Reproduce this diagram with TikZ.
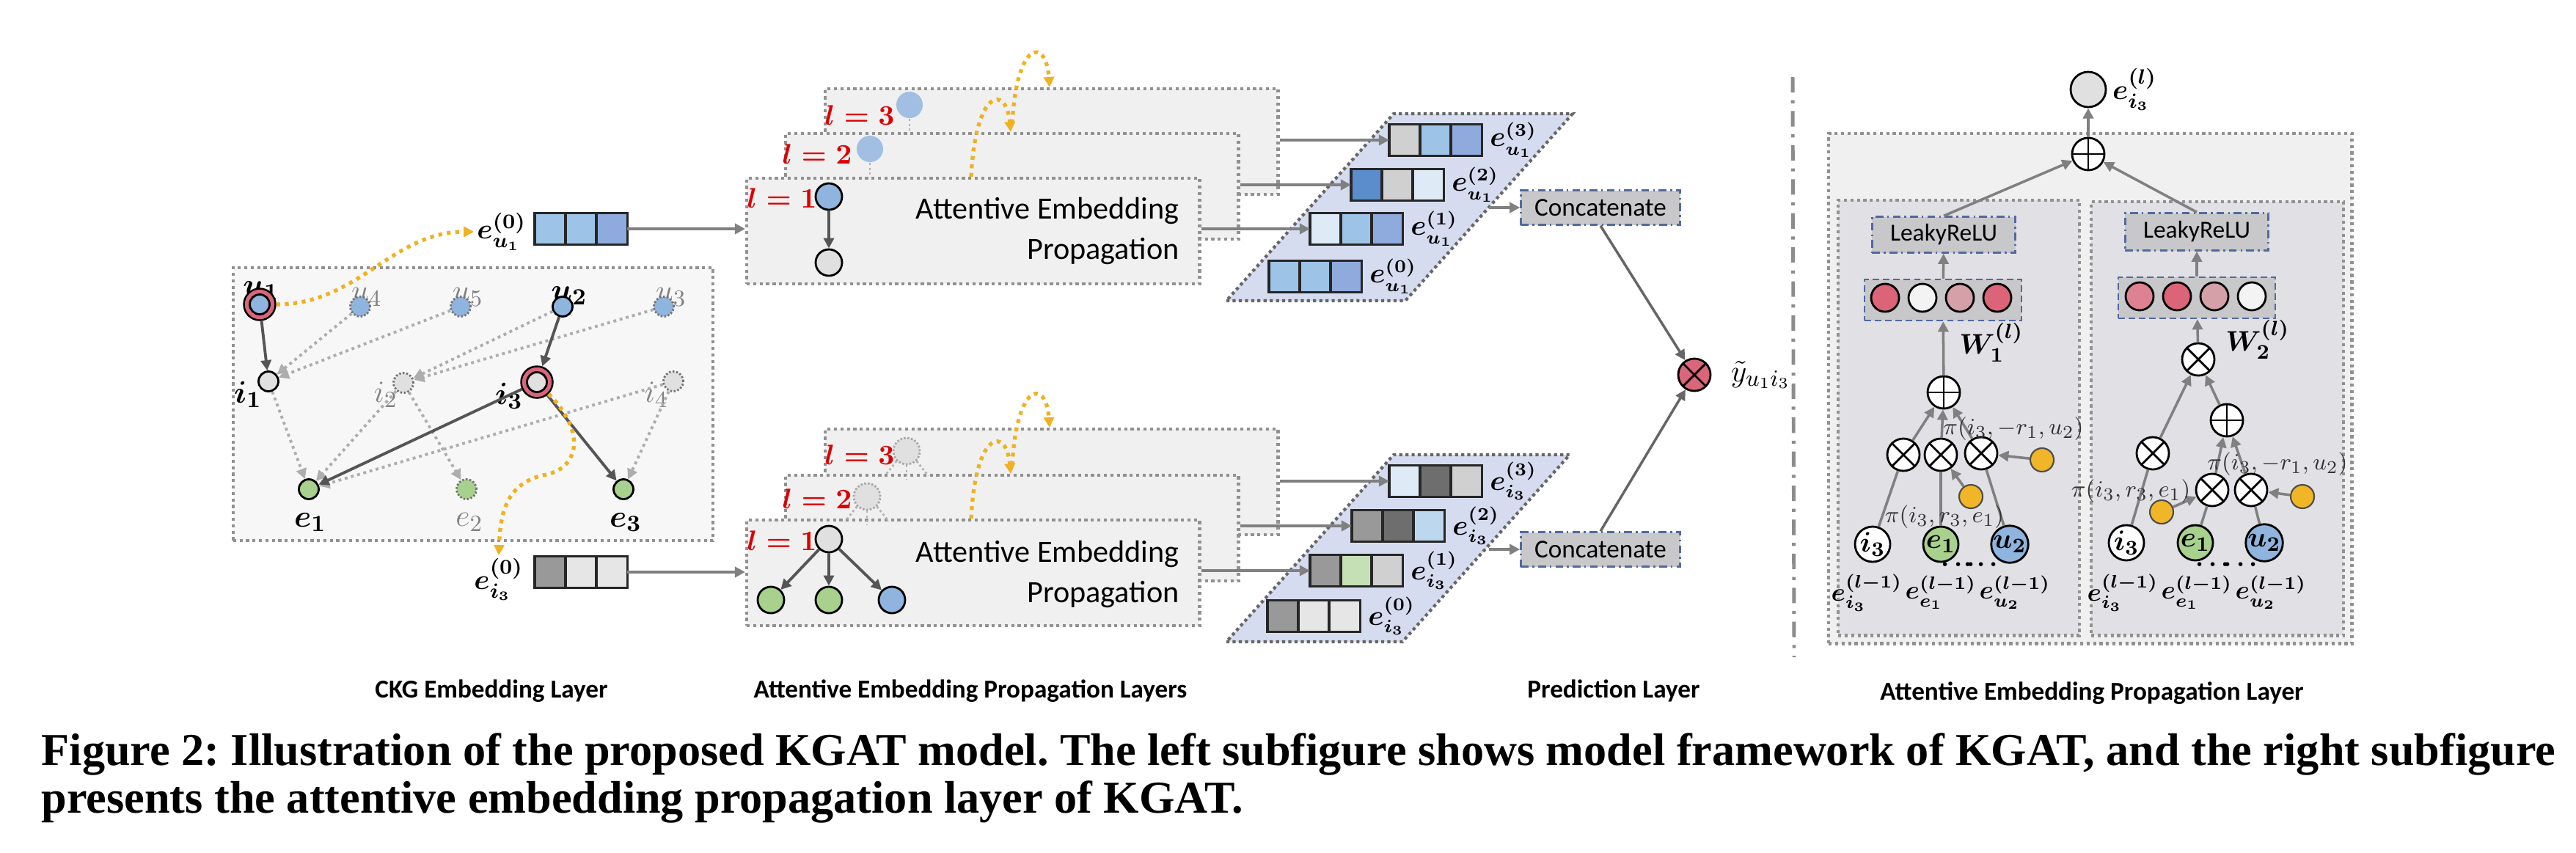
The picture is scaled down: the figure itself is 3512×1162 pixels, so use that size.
\documentclass[tikz,border=0pt]{standalone}
\usepackage{fontspec}
\setsansfont{Carlito}
\newfontfamily\capfont{Liberation Serif}
\usepackage{amsmath}
\usetikzlibrary{arrows.meta,positioning,calc}

\definecolor{nodeblue}{RGB}{143,180,222}
\definecolor{nodegreen}{RGB}{169,209,142}
\definecolor{nodegray}{RGB}{224,224,224}
\definecolor{ringred}{RGB}{217,102,123}
\definecolor{arrowyellow}{RGB}{238,178,34}
\definecolor{attyellow}{RGB}{240,182,40}
\definecolor{dotgray}{RGB}{145,145,145}
\definecolor{edgegray}{RGB}{85,85,85}
\definecolor{boxgray}{RGB}{240,240,240}
\definecolor{ckgfill}{RGB}{247,247,247}
\definecolor{stackfill}{RGB}{214,220,240}
\definecolor{opfill}{RGB}{200,200,202}
\definecolor{opborder}{RGB}{80,105,160}
\definecolor{innerfill}{RGB}{225,224,228}
\definecolor{lred}{RGB}{222,0,0}
\definecolor{attred}{RGB}{220,100,120}
\definecolor{attpink}{RGB}{222,130,146}
\definecolor{attmauve}{RGB}{213,160,168}
\definecolor{attwhite}{RGB}{243,243,243}
\definecolor{vblue}{RGB}{157,195,230}
\definecolor{vpurple}{RGB}{143,170,220}
\definecolor{vdeep}{RGB}{91,140,204}
\definecolor{vpale}{RGB}{222,235,247}
\definecolor{vgrayA}{RGB}{153,153,153}
\definecolor{vgrayB}{RGB}{110,110,110}
\definecolor{vgrayC}{RGB}{208,208,208}
\definecolor{vgrayD}{RGB}{231,230,230}
\definecolor{vgreen}{RGB}{197,224,180}
\definecolor{vsky}{RGB}{189,215,238}

\tikzset{
  dotbox/.style={draw=dotgray, line width=1.2pt, dash pattern=on 1.2pt off 1.3pt},
  ckgbox/.style={rectangle, dotbox, fill=ckgfill, inner sep=0pt, minimum width=6.54cm, minimum height=3.72cm},
  layerbox/.style={rectangle, dotbox, fill=boxgray, inner sep=0pt, minimum width=6.17cm, minimum height=1.44cm, anchor=north west},
  ent/.style={circle, draw=black, line width=0.8pt, minimum size=0.27cm, inner sep=0pt},
  ghostent/.style={ent, draw=black!55, dash pattern=on 0.7pt off 0.7pt},
  ring/.style={circle, draw=black, line width=0.7pt, fill=ringred, minimum size=0.43cm, inner sep=0pt},
  darkedge/.style={draw=edgegray, line width=1.1pt, ->},
  faintedge/.style={draw=black!32, line width=1.1pt, dash pattern=on 1.1pt off 1.4pt, ->},
  yflow/.style={draw=arrowyellow, line width=1.5pt, dash pattern=on 1.5pt off 1.8pt, ->},
  cell/.style={rectangle, draw=black!85, line width=0.9pt, minimum width=0.42cm, minimum height=0.43cm, inner sep=0pt, outer sep=0pt},
  flow/.style={draw=black!50, line width=1.4pt, ->},
  flowthin/.style={draw=black!60, line width=1pt, ->},
  stackbox/.style={fill=stackfill, draw=black!60, line width=1.2pt, dash pattern=on 1.2pt off 1.2pt},
  opbox/.style={rectangle, fill=opfill, draw=opborder, line width=0.7pt, dash pattern=on 3pt off 1.5pt on 0.7pt off 1.5pt, inner sep=0pt, font=\sffamily\fontsize{10}{12}\selectfont},
  rowbox/.style={rectangle, fill=opfill, draw=opborder, line width=0.7pt, dash pattern=on 2.5pt off 1.5pt, inner sep=0pt, minimum width=2.14cm, minimum height=0.56cm},
  pnode/.style={circle, draw=black, line width=0.8pt, minimum size=0.36cm, inner sep=0pt},
  stub/.style={draw=black!30, line width=0.8pt, dash pattern=on 0.8pt off 1pt},
  llab/.style={text=lred, font=\fontsize{11}{13}\selectfont\boldmath},
  mlab/.style={inner sep=1pt, font=\fontsize{11}{13}\selectfont\boldmath},
  klab/.style={inner sep=0pt, font=\fontsize{10.5}{12}\selectfont\boldmath},
  slab/.style={inner sep=1pt, font=\fontsize{13}{15}\selectfont\boldmath},
  glab/.style={inner sep=1pt, text=black!50, font=\fontsize{13}{15}\selectfont},
  plab/.style={inner sep=0pt, font=\fontsize{10}{11}\selectfont\boldmath},
  pilab/.style={inner sep=0.5pt, text=black!80, font=\fontsize{9.5}{11}\selectfont},
  proptext/.style={align=right, font=\sffamily\fontsize{12}{15.4}\selectfont},
  capsf/.style={font=\sffamily\bfseries\fontsize{10}{12}\selectfont},
  opnode/.style={circle, draw=black, line width=0.8pt, fill=white, minimum size=0.44cm, inner sep=0pt},
  timesop/.style={opnode, path picture={\draw[line width=0.8pt] (path picture bounding box.north west) -- (path picture bounding box.south east) (path picture bounding box.north east) -- (path picture bounding box.south west);}},
  plusop/.style={opnode, path picture={\draw[line width=0.8pt] (path picture bounding box.north) -- (path picture bounding box.south) (path picture bounding box.east) -- (path picture bounding box.west);}},
  attn/.style={circle, draw=black, line width=0.8pt, minimum size=0.38cm, inner sep=0pt},
  wnode/.style={circle, draw=black!70, line width=0.6pt, fill=attyellow, minimum size=0.32cm, inner sep=0pt},
  leaf/.style={circle, draw=black, line width=0.8pt, minimum size=0.48cm, inner sep=0pt, font=\fontsize{11}{12}\selectfont\boldmath},
  pedge/.style={draw=black!50, line width=1pt, ->},
  pline/.style={draw=black!50, line width=1pt},
  sepline/.style={draw=black!45, line width=1.4pt, dash pattern=on 6pt off 3pt on 1.2pt off 3pt},
}

% three-cell embedding vector: name, x, y (left middle), colours
\newcommand{\vecbox}[6]{%
  \node[cell, fill=#4, anchor=west] (#1a) at (#2,#3) {};
  \node[cell, fill=#5, right=0pt of #1a] (#1b) {};
  \node[cell, fill=#6, right=0pt of #1b] (#1c) {};
}

\begin{document}
\frenchspacing
\begin{tikzpicture}[x=0.01cm, y=-0.01cm, >={Triangle[length=4pt,width=4pt]}]
  \useasboundingbox (0,0) rectangle (3512,1162);

  % CKG embedding layer
  \node[ckgbox] (ckg) at (645,551) {};
  \node[slab] at (356,396) {$u_1$};
  \node[glab] at (500,405) {$u_4$};
  \node[glab] at (638,405) {$u_5$};
  \node[slab] at (776,403) {$u_2$};
  \node[glab] at (915,405) {$u_3$};
  \node[slab] at (338,538) {$i_1$};
  \node[glab] at (526,538) {$i_2$};
  \node[slab] at (694,540) {$i_3$};
  \node[glab] at (895,538) {$i_4$};
  \node[slab] at (423,712) {$e_1$};
  \node[glab] at (640,712) {$e_2$};
  \node[slab] at (853,712) {$e_3$};

  \node[ring] (u1r) at (354,415) {};
  \node[ent, fill=nodeblue] (u1) at (354,415) {};
  \node[ghostent, fill=nodeblue] (u4) at (491,418) {};
  \node[ghostent, fill=nodeblue] (u5) at (628,418) {};
  \node[ent, fill=nodeblue] (u2) at (767,418) {};
  \node[ghostent, fill=nodeblue] (u3) at (905,418) {};
  \node[ent, fill=nodegray] (i1) at (366,520) {};
  \node[ghostent, fill=nodegray] (i2) at (550,522) {};
  \node[ring] (i3r) at (732,521) {};
  \node[ent, fill=nodegray] (i3) at (732,521) {};
  \node[ghostent, fill=nodegray] (i4) at (918,520) {};
  \node[ent, fill=nodegreen] (e1) at (421,667) {};
  \node[ghostent, fill=nodegreen] (e2) at (636,667) {};
  \node[ent, fill=nodegreen] (e3) at (850,667) {};

  \foreach \a/\b in {u4/i1, u5/i1, u2/i2, u3/i2, i1/e1, i2/e1, i2/e2, i4/e1, i4/e3}
    \draw[faintedge] (\a) -- (\b);
  \draw[darkedge] (u1r) -- (i1);
  \draw[darkedge] (u2) -- (i3r);
  \draw[darkedge] (i3r) -- (e1);
  \draw[darkedge] (i3r) -- (e3);

  % initial embeddings
  \vecbox{eu}{729}{312}{vblue}{vblue}{vpurple}
  \node[mlab] (eulab) at (684,316) {$e_{u_1}^{(0)}$};
  \vecbox{ei}{729}{780}{vgrayA}{vgrayD}{vgrayD}
  \node[mlab] (eilab) at (680,790) {$e_{i_3}^{(0)}$};
  \draw[yflow] (u1r.east) to[out=0, in=180] (eulab.west);
  \draw[yflow] (i3r.south east) .. controls (800,590) and (790,640) .. (740,648)
    .. controls (690,660) and (682,700) .. (eilab.north);

  % propagation layers, user side
  \node[layerbox] (top3) at (1123,119) {};
  \node[layerbox] (top2) at (1069,180) {};
  \node[layerbox] (top1) at (1016,241) {};
  \node[pnode, draw=none, fill=nodeblue!85] (t3n) at (1240,143) {};
  \draw[stub] (t3n.south) -- ++(0,18);
  \node[pnode, draw=none, fill=nodeblue!85] (t2n) at (1186,203) {};
  \draw[stub] (t2n.south) -- ++(0,18);
  \node[llab] at (1172,157) {$l=3$};
  \node[llab] at (1114,210) {$l=2$};
  \node[llab] at (1066,270) {$l=1$};
  \node[pnode, fill=nodeblue] (t1a) at (1130,268) {};
  \node[pnode, fill=nodegray] (t1b) at (1130,358) {};
  \draw[darkedge] (t1a) -- (t1b);
  \node[proptext, anchor=east] at (1620,315) {Attentive Embedding\\Propagation};
  \coordinate (ty1) at ($(top1.north west)+(308,0)$);
  \coordinate (ty2) at ($(top2.north west)+(309,0)$);
  \coordinate (ty3) at ($(top2.north west)+(311,-12)$);
  \coordinate (ty4) at ($(top3.north west)+(308,0)$);
  \draw[yflow] (ty1) .. controls (1330,120) and (1372,115) .. (ty2);
  \draw[yflow] (ty3) .. controls (1386,55) and (1426,50) .. (ty4);

  % propagation layers, item side
  \node[layerbox] (bot3) at (1123,583) {};
  \node[layerbox] (bot2) at (1069,646) {};
  \node[layerbox] (bot1) at (1016,707) {};
  \node[pnode, draw=black!35, dash pattern=on 0.7pt off 0.7pt, fill=nodegray] (b3n) at (1236,615) {};
  \draw[stub] (b3n.south west) -- ++(-16,20);
  \draw[stub] (b3n.south) -- ++(0,20);
  \draw[stub] (b3n.south east) -- ++(16,20);
  \node[pnode, draw=black!35, dash pattern=on 0.7pt off 0.7pt, fill=nodegray] (b2n) at (1182,677) {};
  \draw[stub] (b2n.south west) -- ++(-16,20);
  \draw[stub] (b2n.south) -- ++(0,20);
  \draw[stub] (b2n.south east) -- ++(16,20);
  \node[llab] at (1172,620) {$l=3$};
  \node[llab] at (1114,680) {$l=2$};
  \node[llab] at (1066,737) {$l=1$};
  \node[pnode, fill=nodegray] (b1a) at (1130,735) {};
  \node[pnode, fill=nodegreen] (b1b) at (1051,818) {};
  \node[pnode, fill=nodegreen] (b1c) at (1130,818) {};
  \node[pnode, fill=nodeblue] (b1d) at (1216,818) {};
  \draw[darkedge] (b1a) -- (b1b);
  \draw[darkedge] (b1a) -- (b1c);
  \draw[darkedge] (b1a) -- (b1d);
  \node[proptext, anchor=east] at (1620,783) {Attentive Embedding\\Propagation};
  \coordinate (by1) at ($(bot1.north west)+(308,0)$);
  \coordinate (by2) at ($(bot2.north west)+(309,0)$);
  \coordinate (by3) at ($(bot2.north west)+(311,-12)$);
  \coordinate (by4) at ($(bot3.north west)+(308,0)$);
  \draw[yflow] (by1) .. controls (1330,586) and (1372,581) .. (by2);
  \draw[yflow] (by3) .. controls (1386,521) and (1426,516) .. (by4);

  \draw[flow] (euc.east) -- (euc.east -| top1.west);
  \draw[flow] (eic.east) -- (eic.east -| bot1.west);

  % layer-wise embeddings
  \draw[stackbox] (1672,410) -- (1916,410) -- (2144,155) -- (1900,155) -- cycle;
  \vecbox{ua}{1894}{191}{vgrayC}{vblue}{vpurple}
  \vecbox{ub}{1842}{252}{vdeep}{vgrayC}{vpale}
  \vecbox{uc}{1786}{312}{vpale}{vblue}{vpurple}
  \vecbox{ud}{1730}{377}{vblue}{vblue}{vpurple}
  \node[klab, right=3pt of uac] {$e_{u_1}^{(3)}$};
  \node[klab, right=3pt of ubc] {$e_{u_1}^{(2)}$};
  \node[klab, right=3pt of ucc] {$e_{u_1}^{(1)}$};
  \node[klab, right=3pt of udc] {$e_{u_1}^{(0)}$};
  \draw[flow] (top3.east |- uaa.west) -- (uaa.west);
  \draw[flow] (top2.east |- uba.west) -- (uba.west);
  \draw[flow] (top1.east |- uca.west) -- (uca.west);

  \draw[stackbox] (1672,875) -- (1912,875) -- (2140,620) -- (1900,620) -- cycle;
  \vecbox{ia}{1894}{656}{vpale}{vgrayB}{vgrayC}
  \vecbox{ib}{1843}{717}{vgrayA}{vgrayB}{vsky}
  \vecbox{ic}{1786}{778}{vgrayA}{vgreen}{vgrayC}
  \vecbox{id}{1728}{840}{vgrayA}{vgrayD}{vgrayD}
  \node[klab, right=3pt of iac] {$e_{i_3}^{(3)}$};
  \node[klab, right=3pt of ibc] {$e_{i_3}^{(2)}$};
  \node[klab, right=3pt of icc] {$e_{i_3}^{(1)}$};
  \node[klab, right=3pt of idc] {$e_{i_3}^{(0)}$};
  \draw[flow] (bot3.east |- iaa.west) -- (iaa.west);
  \draw[flow] (bot2.east |- iba.west) -- (iba.west);
  \draw[flow] (bot1.east |- ica.west) -- (ica.west);

  % prediction layer
  \node[opbox, minimum width=2.17cm, minimum height=0.47cm] (cat1) at (2182,283) {Concatenate};
  \node[opbox, minimum width=2.17cm, minimum height=0.47cm] (cat2) at (2182,749) {Concatenate};
  \coordinate (us) at (2030,283);
  \coordinate (is) at (2030,749);
  \draw[flow] (us) -- (cat1.west);
  \draw[flow] (is) -- (cat2.west);
  \node[timesop, fill=ringred, minimum size=0.44cm] (pred) at (2310,511) {};
  \draw[flowthin] (cat1.south) -- (pred);
  \draw[flowthin] (cat2.north) -- (pred);
  \node[font=\fontsize{13}{15}\selectfont, right=4pt of pred] {$\tilde{y}_{u_1i_3}$};

  \draw[sepline] (2444,105) -- (2446,896);

  % attentive embedding propagation layer
  \node[rectangle, dotbox, fill=boxgray, inner sep=0pt, minimum width=7.13cm, minimum height=6.95cm, anchor=north west] (outer) at (2491,180) {};
  \node[rectangle, dotbox, fill=innerfill, inner sep=0pt, minimum width=3.29cm, minimum height=5.93cm, anchor=north west] (innL) at (2504,271) {};
  \node[rectangle, dotbox, fill=innerfill, inner sep=0pt, minimum width=3.44cm, minimum height=5.91cm, anchor=north west] (innR) at (2849,273) {};
  \node[pnode, fill=nodegray, minimum size=0.48cm] (out) at (2847,122) {};
  \node[mlab, right=1pt of out] {$e_{i_3}^{(l)}$};
  \node[plusop] (sumtop) at (2847,210) {};
  \draw[pedge] (sumtop) -- (out);

  % left branch
  \node[opbox, font=\sffamily\fontsize{9.5}{11}\selectfont, minimum width=1.95cm, minimum height=0.49cm] (lreL) at (2650,320) {LeakyReLU};
  \node[rowbox] (rowL) at (2649,409) {};
  \foreach \c [count=\k] in {attred,attwhite,attmauve,attred}
    \node[attn, fill=\c] (aL\k) at ({2519+51*\k},406) {};
  \node[mlab] at (2715,467) {$W_1^{(l)}$};
  \node[plusop] (sL) at (2650,535) {};
  \node[timesop] (mL1) at (2595,620) {};
  \node[timesop] (mL2) at (2646,620) {};
  \node[timesop] (mL3) at (2701,618) {};
  \node[wnode] (yL1) at (2687,677) {};
  \node[wnode] (yL2) at (2784,627) {};
  \node[leaf, fill=white] (iL) at (2553,742) {$i_3$};
  \node[leaf, fill=nodegreen] (eL) at (2646,742) {$e_1$};
  \node[leaf, fill=nodeblue] (uL) at (2740,742) {$u_2$};
  \draw[pline] (iL) -- (mL1);
  \draw[pline] (eL) -- (mL2);
  \draw[pline] (uL) -- (mL3);
  \draw[pedge] (yL1) -- (mL2);
  \draw[pedge] (yL2) -- (mL3);
  \foreach \m in {mL1,mL2,mL3}
    \draw[pedge] (\m) -- (sL);
  \draw[pedge] (sL) -- (rowL);
  \draw[pedge] (rowL) -- (lreL);
  \draw[pedge] (lreL.north) -- (sumtop);
  \node[pilab] at (2745,585) {$\pi(i_3,-r_1,u_2)$};
  \node[pilab] at (2651,705) {$\pi(i_3,r_3,e_1)$};
  \node[plab] at (2545,808) {$e_{i_3}^{(l-1)}$};
  \node[plab] at (2646,808) {$e_{e_1}^{(l-1)}$};
  \node[plab] at (2747,808) {$e_{u_2}^{(l-1)}$};
  \node[plab] at (2673,770) {$\cdots$};
  \node[plab] at (2704,770) {$\cdots$};

  % right branch
  \node[opbox, font=\sffamily\fontsize{9.5}{11}\selectfont, minimum width=1.95cm, minimum height=0.51cm] (lreR) at (2995,316) {LeakyReLU};
  \node[rowbox] (rowR) at (2995,406) {};
  \foreach \c [count=\k] in {attpink,attred,attmauve,attwhite}
    \node[attn, fill=\c] (aR\k) at ({2866+51*\k},404) {};
  \node[mlab] at (3078,463) {$W_2^{(l)}$};
  \node[timesop] (mR0) at (2997,490) {};
  \node[plusop] (sR) at (3036,573) {};
  \node[timesop] (mR1) at (2935,618) {};
  \node[timesop] (mR2) at (3016,668) {};
  \node[timesop] (mR3) at (3069,668) {};
  \node[wnode] (yR1) at (2947,698) {};
  \node[wnode] (yR2) at (3139,677) {};
  \node[leaf, fill=white] (iR) at (2899,740) {$i_3$};
  \node[leaf, fill=nodegreen] (eR) at (2993,740) {$e_1$};
  \node[leaf, fill=nodeblue] (uR) at (3087,740) {$u_2$};
  \draw[pline] (iR) -- (mR1);
  \draw[pline] (eR) -- (mR2);
  \draw[pline] (uR) -- (mR3);
  \draw[pedge] (yR1) -- (mR2);
  \draw[pedge] (yR2) -- (mR3);
  \draw[pedge] (mR2) -- (sR);
  \draw[pedge] (mR3) -- (sR);
  \draw[pedge] (mR1) -- (mR0);
  \draw[pedge] (sR) -- (mR0);
  \draw[pedge] (mR0) -- (rowR);
  \draw[pedge] (rowR) -- (lreR);
  \draw[pedge] (lreR.north) -- (sumtop);
  \node[pilab] at (3105,633) {$\pi(i_3,-r_1,u_2)$};
  \node[pilab] at (2905,670) {$\pi(i_3,r_3,e_1)$};
  \node[plab] at (2894,808) {$e_{i_3}^{(l-1)}$};
  \node[plab] at (2995,808) {$e_{e_1}^{(l-1)}$};
  \node[plab] at (3096,808) {$e_{u_2}^{(l-1)}$};
  \node[plab] at (3020,770) {$\cdots$};
  \node[plab] at (3058,770) {$\cdots$};

  % panel titles and caption
  \node[capsf] at (670,942) {CKG Embedding Layer};
  \node[capsf] at (1323,942) {Attentive Embedding Propagation Layers};
  \node[capsf] at (2200,942) {Prediction Layer};
  \node[capsf] at (2852,945) {Attentive Embedding Propagation Layer};
  \node[anchor=base west, inner sep=0pt, font=\capfont\bfseries\fontsize{17.7}{20}\selectfont] at (56,1043) {Figure 2: Illustration of the proposed KGAT model. The left subfigure shows model framework of KGAT, and the right subfigure};
  \node[anchor=base west, inner sep=0pt, font=\capfont\bfseries\fontsize{17.7}{20}\selectfont] at (56,1108) {presents the attentive embedding propagation layer of KGAT.};
\end{tikzpicture}
\end{document}
